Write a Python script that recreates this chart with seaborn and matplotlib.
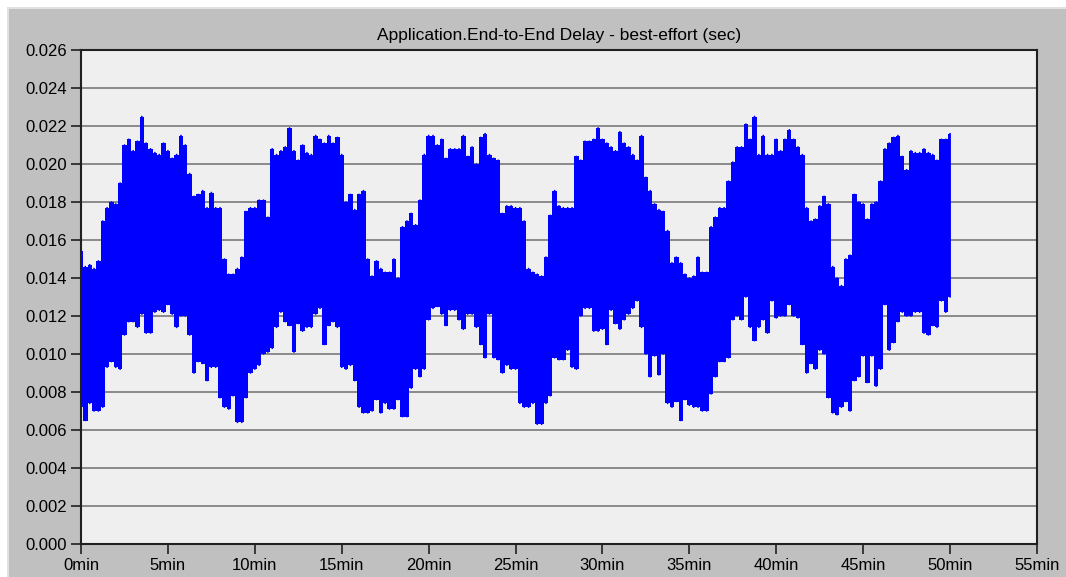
import numpy as np
import matplotlib
matplotlib.use("Agg")
import matplotlib.pyplot as plt
from matplotlib.patches import Rectangle
import seaborn as sns

# Sample times (minutes) and the peak / trough of the delay within each sample window (sec)
minutes = np.arange(201) * 0.25

delay_peak = [
    0.0154, 0.0146, 0.0147, 0.0145, 0.0149, 0.0170, 0.0177, 0.0180,
    0.0179, 0.0190, 0.0210, 0.0213, 0.0207, 0.0212, 0.0225, 0.0211,
    0.0208, 0.0206, 0.0205, 0.0211, 0.0207, 0.0203, 0.0205, 0.0215,
    0.0210, 0.0195, 0.0183, 0.0184, 0.0186, 0.0177, 0.0185, 0.0177,
    0.0177, 0.0150, 0.0142, 0.0142, 0.0145, 0.0151, 0.0175, 0.0177,
    0.0177, 0.0181, 0.0181, 0.0172, 0.0208, 0.0205, 0.0207, 0.0209,
    0.0219, 0.0207, 0.0202, 0.0210, 0.0206, 0.0205, 0.0215, 0.0213,
    0.0211, 0.0215, 0.0211, 0.0214, 0.0205, 0.0180, 0.0184, 0.0176,
    0.0184, 0.0186, 0.0150, 0.0141, 0.0149, 0.0145, 0.0143, 0.0143,
    0.0150, 0.0140, 0.0167, 0.0170, 0.0174, 0.0168, 0.0181, 0.0205,
    0.0215, 0.0215, 0.0210, 0.0213, 0.0203, 0.0208, 0.0208, 0.0208,
    0.0215, 0.0204, 0.0209, 0.0200, 0.0214, 0.0216, 0.0205, 0.0203,
    0.0202, 0.0174, 0.0178, 0.0178, 0.0177, 0.0177, 0.0170, 0.0145,
    0.0143, 0.0142, 0.0141, 0.0151, 0.0173, 0.0186, 0.0178, 0.0177,
    0.0177, 0.0177, 0.0204, 0.0202, 0.0212, 0.0212, 0.0213, 0.0219,
    0.0213, 0.0211, 0.0209, 0.0207, 0.0217, 0.0211, 0.0209, 0.0205,
    0.0202, 0.0215, 0.0193, 0.0186, 0.0179, 0.0176, 0.0175, 0.0165,
    0.0148, 0.0151, 0.0148, 0.0142, 0.0140, 0.0141, 0.0151, 0.0143,
    0.0143, 0.0167, 0.0172, 0.0177, 0.0177, 0.0191, 0.0201, 0.0209,
    0.0209, 0.0221, 0.0213, 0.0225, 0.0205, 0.0215, 0.0205, 0.0205,
    0.0213, 0.0207, 0.0213, 0.0218, 0.0213, 0.0209, 0.0205, 0.0177,
    0.0170, 0.0171, 0.0178, 0.0183, 0.0179, 0.0146, 0.0140, 0.0136,
    0.0150, 0.0152, 0.0184, 0.0180, 0.0179, 0.0171, 0.0179, 0.0180,
    0.0191, 0.0208, 0.0211, 0.0214, 0.0215, 0.0204, 0.0197, 0.0207,
    0.0206, 0.0206, 0.0208, 0.0206, 0.0205, 0.0202, 0.0213, 0.0213,
    0.0216,
]

delay_trough = [
    0.0072, 0.0065, 0.0074, 0.0070, 0.0070, 0.0072, 0.0093, 0.0096,
    0.0093, 0.0092, 0.0110, 0.0117, 0.0117, 0.0114, 0.0121, 0.0111,
    0.0111, 0.0122, 0.0123, 0.0122, 0.0126, 0.0121, 0.0114, 0.0120,
    0.0120, 0.0110, 0.0090, 0.0096, 0.0095, 0.0086, 0.0093, 0.0093,
    0.0077, 0.0072, 0.0071, 0.0078, 0.0064, 0.0064, 0.0077, 0.0090,
    0.0092, 0.0094, 0.0100, 0.0101, 0.0103, 0.0114, 0.0122, 0.0117,
    0.0115, 0.0101, 0.0116, 0.0112, 0.0114, 0.0114, 0.0121, 0.0124,
    0.0105, 0.0115, 0.0117, 0.0114, 0.0093, 0.0092, 0.0094, 0.0086,
    0.0072, 0.0069, 0.0069, 0.0070, 0.0076, 0.0069, 0.0074, 0.0071,
    0.0071, 0.0076, 0.0067, 0.0067, 0.0082, 0.0092, 0.0088, 0.0092,
    0.0118, 0.0124, 0.0125, 0.0121, 0.0115, 0.0123, 0.0123, 0.0118,
    0.0113, 0.0121, 0.0121, 0.0114, 0.0105, 0.0098, 0.0121, 0.0098,
    0.0097, 0.0090, 0.0094, 0.0092, 0.0092, 0.0074, 0.0072, 0.0072,
    0.0074, 0.0063, 0.0063, 0.0074, 0.0078, 0.0098, 0.0097, 0.0097,
    0.0102, 0.0093, 0.0092, 0.0120, 0.0124, 0.0124, 0.0112, 0.0112,
    0.0113, 0.0105, 0.0123, 0.0116, 0.0113, 0.0118, 0.0121, 0.0124,
    0.0128, 0.0114, 0.0100, 0.0088, 0.0099, 0.0089, 0.0100, 0.0074,
    0.0072, 0.0075, 0.0065, 0.0076, 0.0073, 0.0072, 0.0072, 0.0070,
    0.0070, 0.0079, 0.0088, 0.0096, 0.0096, 0.0098, 0.0118, 0.0120,
    0.0118, 0.0130, 0.0114, 0.0107, 0.0114, 0.0118, 0.0111, 0.0128,
    0.0119, 0.0120, 0.0120, 0.0126, 0.0120, 0.0119, 0.0105, 0.0090,
    0.0095, 0.0092, 0.0102, 0.0100, 0.0077, 0.0069, 0.0068, 0.0072,
    0.0075, 0.0070, 0.0086, 0.0088, 0.0099, 0.0085, 0.0099, 0.0083,
    0.0092, 0.0126, 0.0102, 0.0106, 0.0117, 0.0122, 0.0120, 0.0120,
    0.0122, 0.0122, 0.0111, 0.0110, 0.0115, 0.0114, 0.0128, 0.0122,
    0.0130,
]

y_ticks = [0.000, 0.002, 0.004, 0.006, 0.008, 0.010, 0.012,
           0.014, 0.016, 0.018, 0.020, 0.022, 0.024, 0.026]
x_ticks = [0, 5, 10, 15, 20, 25, 30, 35, 40, 45, 50, 55]
title = "Application.End-to-End Delay - best-effort (sec)"

sns.set_style("white")
plt.rcParams["font.family"] = ["Liberation Sans", "DejaVu Sans"]

W, H = 1066, 577
fig = plt.figure(figsize=(W / 100, H / 100), dpi=100, facecolor="#c0c0c0")

# white margin on the top and left of the grey panel, with a light bevel line
fig.patches.extend([
    Rectangle((0, 0), 7 / W, 1, transform=fig.transFigure,
              facecolor="white", edgecolor="none", zorder=-5),
    Rectangle((0, 1 - 7 / H), 1, 7 / H, transform=fig.transFigure,
              facecolor="white", edgecolor="none", zorder=-5),
    Rectangle((7 / W, 0), 1.5 / W, 1 - 7 / H, transform=fig.transFigure,
              facecolor="#e2e2e2", edgecolor="none", zorder=-5),
    Rectangle((7 / W, 1 - 8.5 / H), 1 - 7 / W, 1.5 / H, transform=fig.transFigure,
              facecolor="#e2e2e2", edgecolor="none", zorder=-5),
])

left, right, top, bottom = 81, 1037, 50, 544
ax = fig.add_axes([left / W, 1 - bottom / H, (right - left) / W, (bottom - top) / H])
ax.set_facecolor("#efefef")

# oscillating trace: each sample window swings from its peak to its trough
trace_t = np.repeat(minutes, 2)
trace_v = np.column_stack([delay_peak, delay_trough]).ravel()
ax.fill_between(minutes, delay_trough, delay_peak, step="mid",
                color="#0000ff", linewidth=0, zorder=3)
sns.lineplot(x=trace_t, y=trace_v, estimator=None, sort=False,
             color="#0000ff", linewidth=1.2, ax=ax, zorder=4)

ax.set_xlim(0, 55)
ax.set_ylim(0, 0.026)
ax.set_xticks(x_ticks)
ax.set_xticklabels([f"{m}min" for m in x_ticks])
ax.set_yticks(y_ticks)
ax.set_yticklabels([f"{v:.3f}" for v in y_ticks])
ax.set_xlabel("")
ax.set_ylabel("")

ax.yaxis.grid(True, color="#8a8a8a", linewidth=1.4, zorder=1)
ax.xaxis.grid(False)
ax.set_axisbelow(True)

for side in ["left", "bottom", "top", "right"]:
    ax.spines[side].set_visible(True)
    ax.spines[side].set_color("#202020")
    ax.spines[side].set_linewidth(1.5)

ax.tick_params(axis="both", which="major", direction="out", length=7,
               width=1.2, color="#202020", labelsize=12, labelcolor="black",
               bottom=True, left=True, top=False, right=False)
ax.tick_params(axis="y", pad=3)
ax.tick_params(axis="x", pad=3)

ax.set_title(title, fontsize=12.5, color="black", pad=7)

fig.savefig("out.png", dpi=100, facecolor=fig.get_facecolor())
